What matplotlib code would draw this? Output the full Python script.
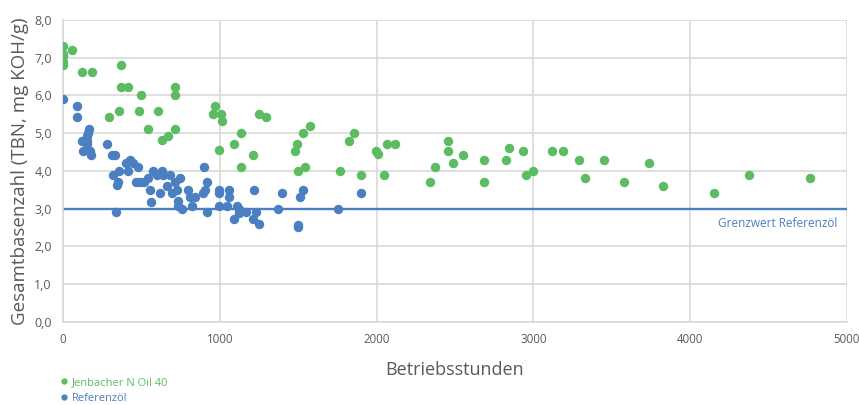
import matplotlib
matplotlib.use("Agg")
import matplotlib.pyplot as plt
from matplotlib.lines import Line2D

plt.rcParams['font.family'] = ['Open Sans', 'DejaVu Sans']

green_x = [0, 0, 0, 0, 0, 57, 121, 185, 370, 370, 415, 497, 357, 293, 485, 606, 542,
           714, 714, 714, 670, 631,
           969, 957, 1008, 1014, 995, 1091, 1135, 1135, 1212, 1250, 1295,
           1492, 1480, 1499, 1531, 1543, 1575, 1767, 1824, 1856, 1901, 1996, 2009,
           2047, 2066, 2117, 2341, 2372, 2455, 2455, 2487, 2551, 2685, 2685, 2825, 2844,
           2934, 2953, 2997, 3119, 3189, 3291, 3329, 3450, 3578, 3737, 3827, 4152, 4375, 4764]
green_y = [7.3, 7.1, 7.04, 6.88, 6.8, 7.2, 6.62, 6.62, 6.8, 6.22, 6.22, 6.0, 5.6, 5.42, 5.6, 5.6, 5.11,
           6.22, 6.0, 5.11, 4.92, 4.81,
           5.73, 5.52, 5.52, 5.33, 4.54, 4.7, 5.0, 4.1, 4.42, 5.5, 5.42,
           4.7, 4.52, 4.0, 5.0, 4.1, 5.2, 4.0, 4.8, 5.0, 3.9, 4.52, 4.45,
           3.9, 4.7, 4.7, 3.7, 4.1, 4.8, 4.52, 4.2, 4.42, 4.3, 3.7, 4.3, 4.6,
           4.52, 3.9, 4.0, 4.52, 4.52, 4.3, 3.8, 4.3, 3.7, 4.2, 3.6, 3.4, 3.9, 3.8]

blue_x = [0, 89, 89, 166, 159, 153, 121, 153, 153, 128, 172, 179,
          281, 313, 332, 319, 351, 344, 357, 415, 402, 427, 446, 478,
          466, 491, 517, 542, 574, 631, 599, 638, 682, 663, 746, 714,
          555, 619, 695, 727, 797, 842, 899, 918, 906, 893, 995, 995,
          1059, 1059, 1218, 1397, 1511, 1531, 561, 733, 733, 759, 810, 823,
          918, 995, 1046, 1110, 1091, 1122, 1122, 1167, 1212, 1231, 1250, 1371,
          338, 1499, 1499, 1754, 1901]
blue_y = [5.9, 5.72, 5.42, 5.11, 5.0, 4.92, 4.79, 4.79, 4.7, 4.52, 4.52, 4.42,
          4.7, 4.42, 4.42, 3.89, 3.7, 3.62, 4.0, 4.0, 4.2, 4.3, 4.2, 4.1,
          3.7, 3.7, 3.7, 3.8, 4.0, 4.0, 3.9, 3.9, 3.9, 3.6, 3.8, 3.7,
          3.49, 3.4, 3.4, 3.49, 3.49, 3.3, 4.1, 3.7, 3.49, 3.4, 3.49, 3.4,
          3.49, 3.3, 3.49, 3.4, 3.3, 3.49, 3.18, 3.2, 3.07, 2.98, 3.3, 3.07,
          2.9, 3.07, 3.07, 3.07, 2.72, 2.98, 2.87, 2.9, 2.72, 2.9, 2.59, 3.0,
          2.9, 2.57, 2.5, 3.0, 3.4]

limit_value = 3.0
limit_label = "Grenzwert Referenzöl"
series_names = ["Jenbacher N Oil 40", "Referenzöl"]
x_ticks = [0, 1000, 2000, 3000, 4000, 5000]
y_ticks = [0, 1, 2, 3, 4, 5, 6, 7, 8]

GREEN = '#5bbc61'
BLUE = '#4a7fc1'
GRID = '#d9d9d9'
TXT = '#595959'

fig = plt.figure(figsize=(8.59, 4.05), dpi=100)
ax = fig.add_axes([0.0733, 0.206, 0.9127, 0.7444])

ax.scatter(green_x, green_y, s=46, color=GREEN, zorder=3, linewidths=0)
ax.scatter(blue_x, blue_y, s=46, color=BLUE, zorder=3, linewidths=0)
ax.axhline(limit_value, color=BLUE, lw=1.7, zorder=2)
ax.text(4940, limit_value - 0.22, limit_label, color=BLUE, fontsize=8.5,
        ha='right', va='top')

ax.set_xlim(0, 5000)
ax.set_ylim(0, 8)
ax.set_xticks(x_ticks)
ax.set_yticks(y_ticks)
ax.set_xticklabels([str(t) for t in x_ticks])
ax.set_yticklabels([f"{t:.1f}".replace('.', ',') for t in y_ticks])
ax.grid(True, color=GRID, lw=1.2, zorder=0)
ax.set_axisbelow(True)
for s in ['top', 'right']:
    ax.spines[s].set_visible(False)
for s in ['left', 'bottom']:
    ax.spines[s].set_color(GRID)
    ax.spines[s].set_linewidth(1.2)
ax.tick_params(length=0, colors=TXT, labelsize=9, pad=8)
ax.tick_params(axis='x', labelsize=8.3)

ax.set_xlabel("Betriebsstunden", fontsize=13, color=TXT, labelpad=11)
ax.set_ylabel("Gesamtbasenzahl (TBN, mg KOH/g)", fontsize=13.5, color=TXT, labelpad=4)

handles = [Line2D([], [], marker='o', ls='', color=GREEN, markersize=3.5),
           Line2D([], [], marker='o', ls='', color=BLUE, markersize=3.5)]
leg = fig.legend(handles, series_names, loc='upper left', bbox_to_anchor=(0.064, 0.082),
                 frameon=False, fontsize=8, handlelength=0.6, handletextpad=0.4,
                 labelspacing=0.45, borderpad=0)
for t, c in zip(leg.get_texts(), [GREEN, BLUE]):
    t.set_color(c)

fig.savefig("out.png", dpi=100)
